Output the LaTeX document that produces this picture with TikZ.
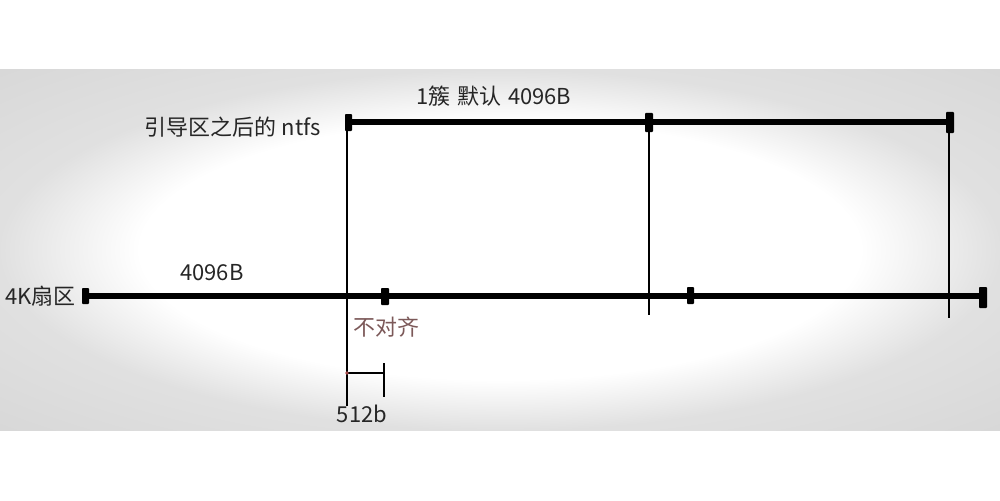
\documentclass[tikz,border=0pt]{standalone}
\usepackage{fontspec}
\setmainfont{Noto Sans CJK SC}
\pgfdeclareradialshading{panel}{\pgfpoint{0bp}{0bp}}{color(0bp)=(white); color(18bp)=(white); color(25bp)=(black!12); color(50bp)=(black!20)}
\begin{document}
\begin{tikzpicture}[x=0.02cm,y=-0.02cm,
  bar/.style={line width=3.4pt},
  thin/.style={line width=0.8pt},
  tickmark/.style={fill=black,rounded corners=0.5pt},
  lbl/.style={font=\fontsize{12.5pt}{14pt}\selectfont,text=black!85,inner sep=0pt}]
\useasboundingbox (0,0) rectangle (1000,500);
\fill[white] (0,0) rectangle (1000,500);
\shade[shading=panel] (0,70) rectangle (1000,430);
% coordinates
\coordinate (t0) at (348,122);
\coordinate (t1) at (649,122);
\coordinate (t2) at (950,122);
\coordinate (b0) at (85,296);
\coordinate (b1) at (385,296);
\coordinate (b2) at (690,296);
\coordinate (b3) at (983,296);
% thin verticals
\coordinate (v0a) at (347,116);
\coordinate (v0b) at (347,406);
\coordinate (v1a) at (649,128);
\coordinate (v1b) at (649,315);
\coordinate (v2a) at (949,128);
\coordinate (v2b) at (949,318);
\draw[thin] (v0a) -- (v0b);
\draw[thin] (v1a) -- (v1b);
\draw[thin] (v2a) -- (v2b);
% bars
\draw[bar] (t0) -- (t2);
\draw[bar] (b0) -- (b3);
% ticks
\fill[tickmark] (345,114) rectangle (352,131);
\fill[tickmark] (645,113) rectangle (653,132);
\fill[tickmark] (946,112) rectangle (954,133);
\fill[tickmark] (82,288) rectangle (89,304);
\fill[tickmark] (381,288) rectangle (389,305);
\fill[tickmark] (687,287) rectangle (694,304);
\fill[tickmark] (979,287) rectangle (987,308);
% 512b bracket
\coordinate (s0) at (347,373);
\coordinate (s1) at (384,373);
\coordinate (s1a) at (384,363);
\coordinate (s1b) at (384,397);
\draw[line width=1pt] (s0) -- (s1);
\draw[line width=1.2pt] (s1a) -- (s1b);
\fill[red!50!black!70] (s0) circle (1.8);
% labels
\node[lbl] (cl) at (494,96) {1簇\hspace{0.3em}默认\hspace{0.3em}4096B};
\node[lbl,anchor=east] (nt) at (321,127) {引导区之后的 ntfs};
\node[lbl] (s4) at (212,273) {4096B};
\node[lbl,anchor=west] (k4) at (5,296) {4K扇区};
\node[lbl,text=black!55!red!30!gray,anchor=west] (na) at (353,327) {不对齐};
\node[lbl] (sb) at (362,414) {512b};
\end{tikzpicture}
\end{document}
